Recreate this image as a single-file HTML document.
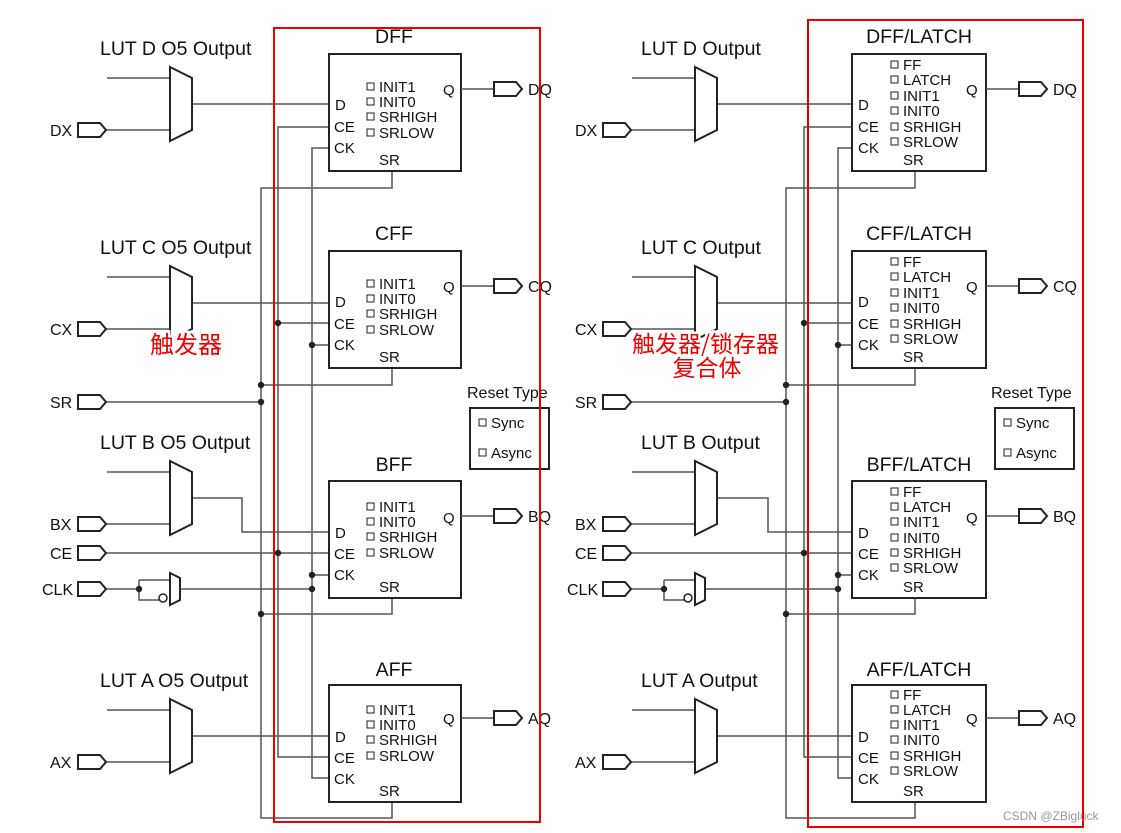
<!DOCTYPE html>
<html><head><meta charset="utf-8"><style>
html,body{margin:0;padding:0;background:#fff;}
svg{display:block;}
text{font-family:"Liberation Sans","Noto Sans CJK SC",sans-serif;fill:#111;}
.w{stroke:#555;stroke-width:1.5;fill:none;}
.b{stroke:#222;stroke-width:2;fill:#fff;}
.p{stroke:#222;stroke-width:2;fill:#fff;}
.cb{stroke:#222;stroke-width:1;fill:#fff;}
.t{font-size:15px;}
.l{font-size:16px;}
.h{font-size:19.5px;}
.cn{font-size:23px;fill:#e00;stroke:#fff;stroke-width:5;paint-order:stroke;font-family:"Noto Sans CJK SC",sans-serif;}
</style></head><body>
<svg width="1121" height="833" viewBox="0 0 1121 833" xmlns="http://www.w3.org/2000/svg">
<defs>
<g id="port"><polygon class="p" points="0,-7 22,-7 28,0 22,7 0,7"/></g>
<g id="mux"><polygon class="b" points="0,0 22,11 22,63 0,74" style="fill:#fff"/></g>
<circle id="dot" r="3.2" fill="#222"/>
</defs>

<!-- ============ LEFT ============ -->
<g>
<text class="h" x="100" y="55">LUT D O5 Output</text>
<text class="h" x="100" y="254">LUT C O5 Output</text>
<text class="h" x="100" y="449">LUT B O5 Output</text>
<text class="h" x="100" y="687">LUT A O5 Output</text>
<text class="l" x="50" y="136">DX</text>
<text class="l" x="50" y="335">CX</text>
<text class="l" x="50" y="408">SR</text>
<text class="l" x="50" y="530">BX</text>
<text class="l" x="50" y="559">CE</text>
<text class="l" x="42" y="595">CLK</text>
<text class="l" x="50" y="768">AX</text>

<path class="w" d="M107,78H170 M106,130H170 M192,104H329"/>
<path class="w" d="M107,277H170 M106,329H170 M192,303H329"/>
<path class="w" d="M107,472H170 M106,524H170 M192,498H242V532H329"/>
<path class="w" d="M107,710H170 M106,762H170 M192,736H329"/>
<path class="w" d="M329,127H278V757H329 M278,323H329 M106,553H329"/>
<path class="w" d="M329,148H312V778H329 M312,345H329 M312,575H329 M180,589H312"/>
<path class="w" d="M392,171V188H261V818H392V802 M392,368V385H261 M106,402H261 M392,598V614H261"/>
<path class="w" d="M106,589H139 M139,580V600H159 M139,580H170"/>
<polygon class="b" points="170,573 180,578 180,600 170,605"/>
<circle cx="163" cy="598" r="4" fill="#fff" stroke="#222" stroke-width="1.5"/>
<use href="#dot" x="139" y="589"/>
<use href="#dot" x="278" y="323"/><use href="#dot" x="278" y="553"/>
<use href="#dot" x="312" y="345"/><use href="#dot" x="312" y="575"/><use href="#dot" x="312" y="589"/>
<use href="#dot" x="261" y="385"/><use href="#dot" x="261" y="402"/><use href="#dot" x="261" y="614"/>

<use href="#mux" x="170" y="67"/><use href="#mux" x="170" y="266"/>
<use href="#mux" x="170" y="461"/><use href="#mux" x="170" y="699"/>
<use href="#port" x="78" y="130"/><use href="#port" x="78" y="329"/><use href="#port" x="78" y="402"/>
<use href="#port" x="78" y="524"/><use href="#port" x="78" y="553"/><use href="#port" x="78" y="589"/>
<use href="#port" x="78" y="762"/>

<g transform="translate(329,54)">
<rect class="b" x="0" y="0" width="132" height="117"/>
<text class="h" x="65" y="-11" text-anchor="middle">DFF</text>
<rect class="cb" x="38" y="29" width="7" height="7"/><text class="t" x="50" y="38">INIT1</text>
<rect class="cb" x="38" y="44" width="7" height="7"/><text class="t" x="50" y="53">INIT0</text>
<rect class="cb" x="38" y="59" width="7" height="7"/><text class="t" x="50" y="68">SRHIGH</text>
<rect class="cb" x="38" y="75" width="7" height="7"/><text class="t" x="50" y="84">SRLOW</text>
<text class="t" x="114" y="41">Q</text><text class="t" x="6" y="56">D</text>
<text class="t" x="5" y="78">CE</text><text class="t" x="5" y="99">CK</text><text class="t" x="50" y="111">SR</text>
<path class="w" d="M132,35H165"/><use href="#port" x="165" y="35"/><text class="l" x="199" y="41">DQ</text>
</g>
<g transform="translate(329,251)">
<rect class="b" x="0" y="0" width="132" height="117"/>
<text class="h" x="65" y="-11" text-anchor="middle">CFF</text>
<rect class="cb" x="38" y="29" width="7" height="7"/><text class="t" x="50" y="38">INIT1</text>
<rect class="cb" x="38" y="44" width="7" height="7"/><text class="t" x="50" y="53">INIT0</text>
<rect class="cb" x="38" y="59" width="7" height="7"/><text class="t" x="50" y="68">SRHIGH</text>
<rect class="cb" x="38" y="75" width="7" height="7"/><text class="t" x="50" y="84">SRLOW</text>
<text class="t" x="114" y="41">Q</text><text class="t" x="6" y="56">D</text>
<text class="t" x="5" y="78">CE</text><text class="t" x="5" y="99">CK</text><text class="t" x="50" y="111">SR</text>
<path class="w" d="M132,35H165"/><use href="#port" x="165" y="35"/><text class="l" x="199" y="41">CQ</text>
</g>
<g transform="translate(329,481)">
<rect class="b" x="0" y="0" width="132" height="117"/>
<text class="h" x="65" y="-10" text-anchor="middle">BFF</text>
<rect class="cb" x="38" y="22" width="7" height="7"/><text class="t" x="50" y="31">INIT1</text>
<rect class="cb" x="38" y="37" width="7" height="7"/><text class="t" x="50" y="46">INIT0</text>
<rect class="cb" x="38" y="52" width="7" height="7"/><text class="t" x="50" y="61">SRHIGH</text>
<rect class="cb" x="38" y="68" width="7" height="7"/><text class="t" x="50" y="77">SRLOW</text>
<text class="t" x="114" y="42">Q</text><text class="t" x="6" y="57">D</text>
<text class="t" x="5" y="78">CE</text><text class="t" x="5" y="99">CK</text><text class="t" x="50" y="111">SR</text>
<path class="w" d="M132,35H165"/><use href="#port" x="165" y="35"/><text class="l" x="199" y="41">BQ</text>
</g>
<g transform="translate(329,685)">
<rect class="b" x="0" y="0" width="132" height="117"/>
<text class="h" x="65" y="-9" text-anchor="middle">AFF</text>
<rect class="cb" x="38" y="21" width="7" height="7"/><text class="t" x="50" y="30">INIT1</text>
<rect class="cb" x="38" y="36" width="7" height="7"/><text class="t" x="50" y="45">INIT0</text>
<rect class="cb" x="38" y="51" width="7" height="7"/><text class="t" x="50" y="60">SRHIGH</text>
<rect class="cb" x="38" y="67" width="7" height="7"/><text class="t" x="50" y="76">SRLOW</text>
<text class="t" x="114" y="39">Q</text><text class="t" x="6" y="57">D</text>
<text class="t" x="5" y="78">CE</text><text class="t" x="5" y="99">CK</text><text class="t" x="50" y="111">SR</text>
<path class="w" d="M132,33H165"/><use href="#port" x="165" y="33"/><text class="l" x="199" y="39">AQ</text>
</g>

<text class="l" x="467" y="398">Reset Type</text>
<rect class="b" x="470" y="408" width="79" height="61"/>
<rect class="cb" x="479" y="419" width="7" height="7"/><text class="t" x="491" y="428">Sync</text>
<rect class="cb" x="479" y="449" width="7" height="7"/><text class="t" x="491" y="458">Async</text>

<rect x="274" y="28" width="266" height="794" fill="none" stroke="#e00" stroke-width="2"/>
<text class="cn" x="150" y="353" style="font-size:24px">触发器</text>
</g>

<!-- ============ RIGHT ============ -->
<g>
<text class="h" x="641" y="55">LUT D Output</text>
<text class="h" x="641" y="254">LUT C Output</text>
<text class="h" x="641" y="449">LUT B Output</text>
<text class="h" x="641" y="687">LUT A Output</text>
<text class="l" x="575" y="136">DX</text>
<text class="l" x="575" y="335">CX</text>
<text class="l" x="575" y="408">SR</text>
<text class="l" x="575" y="530">BX</text>
<text class="l" x="575" y="559">CE</text>
<text class="l" x="567" y="595">CLK</text>
<text class="l" x="575" y="768">AX</text>

<path class="w" d="M632,78H695 M631,130H695 M717,104H852"/>
<path class="w" d="M632,277H695 M631,329H695 M717,303H852"/>
<path class="w" d="M632,472H695 M631,524H695 M717,498H768V532H852"/>
<path class="w" d="M632,710H695 M631,762H695 M717,736H852"/>
<path class="w" d="M852,127H804V757H852 M804,323H852 M631,553H852"/>
<path class="w" d="M852,148H838V778H852 M838,345H852 M838,575H852 M705,589H838"/>
<path class="w" d="M915,171V188H786V818H915V802 M915,368V385H786 M631,402H786 M915,598V614H786"/>
<path class="w" d="M631,589H664 M664,580V600H684 M664,580H695"/>
<polygon class="b" points="695,573 705,578 705,600 695,605"/>
<circle cx="688" cy="598" r="4" fill="#fff" stroke="#222" stroke-width="1.5"/>
<use href="#dot" x="664" y="589"/>
<use href="#dot" x="804" y="323"/><use href="#dot" x="804" y="553"/>
<use href="#dot" x="838" y="345"/><use href="#dot" x="838" y="575"/><use href="#dot" x="838" y="589"/>
<use href="#dot" x="786" y="385"/><use href="#dot" x="786" y="402"/><use href="#dot" x="786" y="614"/>

<use href="#mux" x="695" y="67"/><use href="#mux" x="695" y="266"/>
<use href="#mux" x="695" y="461"/><use href="#mux" x="695" y="699"/>
<use href="#port" x="603" y="130"/><use href="#port" x="603" y="329"/><use href="#port" x="603" y="402"/>
<use href="#port" x="603" y="524"/><use href="#port" x="603" y="553"/><use href="#port" x="603" y="589"/>
<use href="#port" x="603" y="762"/>

<g transform="translate(852,54)">
<rect class="b" x="0" y="0" width="134" height="117"/>
<text class="h" x="67" y="-11" text-anchor="middle">DFF/LATCH</text>
<rect class="cb" x="39" y="7" width="7" height="7"/><text class="t" x="51" y="16">FF</text>
<rect class="cb" x="39" y="22" width="7" height="7"/><text class="t" x="51" y="31">LATCH</text>
<rect class="cb" x="39" y="38" width="7" height="7"/><text class="t" x="51" y="47">INIT1</text>
<rect class="cb" x="39" y="53" width="7" height="7"/><text class="t" x="51" y="62">INIT0</text>
<rect class="cb" x="39" y="69" width="7" height="7"/><text class="t" x="51" y="78">SRHIGH</text>
<rect class="cb" x="39" y="84" width="7" height="7"/><text class="t" x="51" y="93">SRLOW</text>
<text class="t" x="114" y="41">Q</text><text class="t" x="6" y="56">D</text>
<text class="t" x="6" y="78">CE</text><text class="t" x="6" y="99">CK</text><text class="t" x="51" y="111">SR</text>
<path class="w" d="M134,35H167"/><use href="#port" x="167" y="35"/><text class="l" x="201" y="41">DQ</text>
</g>
<g transform="translate(852,251)">
<rect class="b" x="0" y="0" width="134" height="117"/>
<text class="h" x="67" y="-11" text-anchor="middle">CFF/LATCH</text>
<rect class="cb" x="39" y="7" width="7" height="7"/><text class="t" x="51" y="16">FF</text>
<rect class="cb" x="39" y="22" width="7" height="7"/><text class="t" x="51" y="31">LATCH</text>
<rect class="cb" x="39" y="38" width="7" height="7"/><text class="t" x="51" y="47">INIT1</text>
<rect class="cb" x="39" y="53" width="7" height="7"/><text class="t" x="51" y="62">INIT0</text>
<rect class="cb" x="39" y="69" width="7" height="7"/><text class="t" x="51" y="78">SRHIGH</text>
<rect class="cb" x="39" y="84" width="7" height="7"/><text class="t" x="51" y="93">SRLOW</text>
<text class="t" x="114" y="41">Q</text><text class="t" x="6" y="56">D</text>
<text class="t" x="6" y="78">CE</text><text class="t" x="6" y="99">CK</text><text class="t" x="51" y="111">SR</text>
<path class="w" d="M134,35H167"/><use href="#port" x="167" y="35"/><text class="l" x="201" y="41">CQ</text>
</g>
<g transform="translate(852,481)">
<rect class="b" x="0" y="0" width="134" height="117"/>
<text class="h" x="67" y="-10" text-anchor="middle">BFF/LATCH</text>
<rect class="cb" x="39" y="7" width="7" height="7"/><text class="t" x="51" y="16">FF</text>
<rect class="cb" x="39" y="22" width="7" height="7"/><text class="t" x="51" y="31">LATCH</text>
<rect class="cb" x="39" y="37" width="7" height="7"/><text class="t" x="51" y="46">INIT1</text>
<rect class="cb" x="39" y="53" width="7" height="7"/><text class="t" x="51" y="62">INIT0</text>
<rect class="cb" x="39" y="68" width="7" height="7"/><text class="t" x="51" y="77">SRHIGH</text>
<rect class="cb" x="39" y="83" width="7" height="7"/><text class="t" x="51" y="92">SRLOW</text>
<text class="t" x="114" y="42">Q</text><text class="t" x="6" y="57">D</text>
<text class="t" x="6" y="78">CE</text><text class="t" x="6" y="99">CK</text><text class="t" x="51" y="111">SR</text>
<path class="w" d="M134,35H167"/><use href="#port" x="167" y="35"/><text class="l" x="201" y="41">BQ</text>
</g>
<g transform="translate(852,685)">
<rect class="b" x="0" y="0" width="134" height="117"/>
<text class="h" x="67" y="-9" text-anchor="middle">AFF/LATCH</text>
<rect class="cb" x="39" y="6" width="7" height="7"/><text class="t" x="51" y="15">FF</text>
<rect class="cb" x="39" y="21" width="7" height="7"/><text class="t" x="51" y="30">LATCH</text>
<rect class="cb" x="39" y="36" width="7" height="7"/><text class="t" x="51" y="45">INIT1</text>
<rect class="cb" x="39" y="51" width="7" height="7"/><text class="t" x="51" y="60">INIT0</text>
<rect class="cb" x="39" y="67" width="7" height="7"/><text class="t" x="51" y="76">SRHIGH</text>
<rect class="cb" x="39" y="82" width="7" height="7"/><text class="t" x="51" y="91">SRLOW</text>
<text class="t" x="114" y="39">Q</text><text class="t" x="6" y="57">D</text>
<text class="t" x="6" y="78">CE</text><text class="t" x="6" y="99">CK</text><text class="t" x="51" y="111">SR</text>
<path class="w" d="M134,33H167"/><use href="#port" x="167" y="33"/><text class="l" x="201" y="39">AQ</text>
</g>

<text class="l" x="991" y="398">Reset Type</text>
<rect class="b" x="995" y="408" width="79" height="61"/>
<rect class="cb" x="1004" y="419" width="7" height="7"/><text class="t" x="1016" y="428">Sync</text>
<rect class="cb" x="1004" y="449" width="7" height="7"/><text class="t" x="1016" y="458">Async</text>

<rect x="808" y="20" width="275" height="807" fill="none" stroke="#e00" stroke-width="2"/>
<text class="cn" x="632" y="352">触发器/锁存器</text>
<text class="cn" x="707" y="376" text-anchor="middle">复合体</text>
<text x="1003" y="820" style="font-size:12px;fill:#999;">CSDN @ZBigluck</text>
</g>
</svg>
</body></html>
